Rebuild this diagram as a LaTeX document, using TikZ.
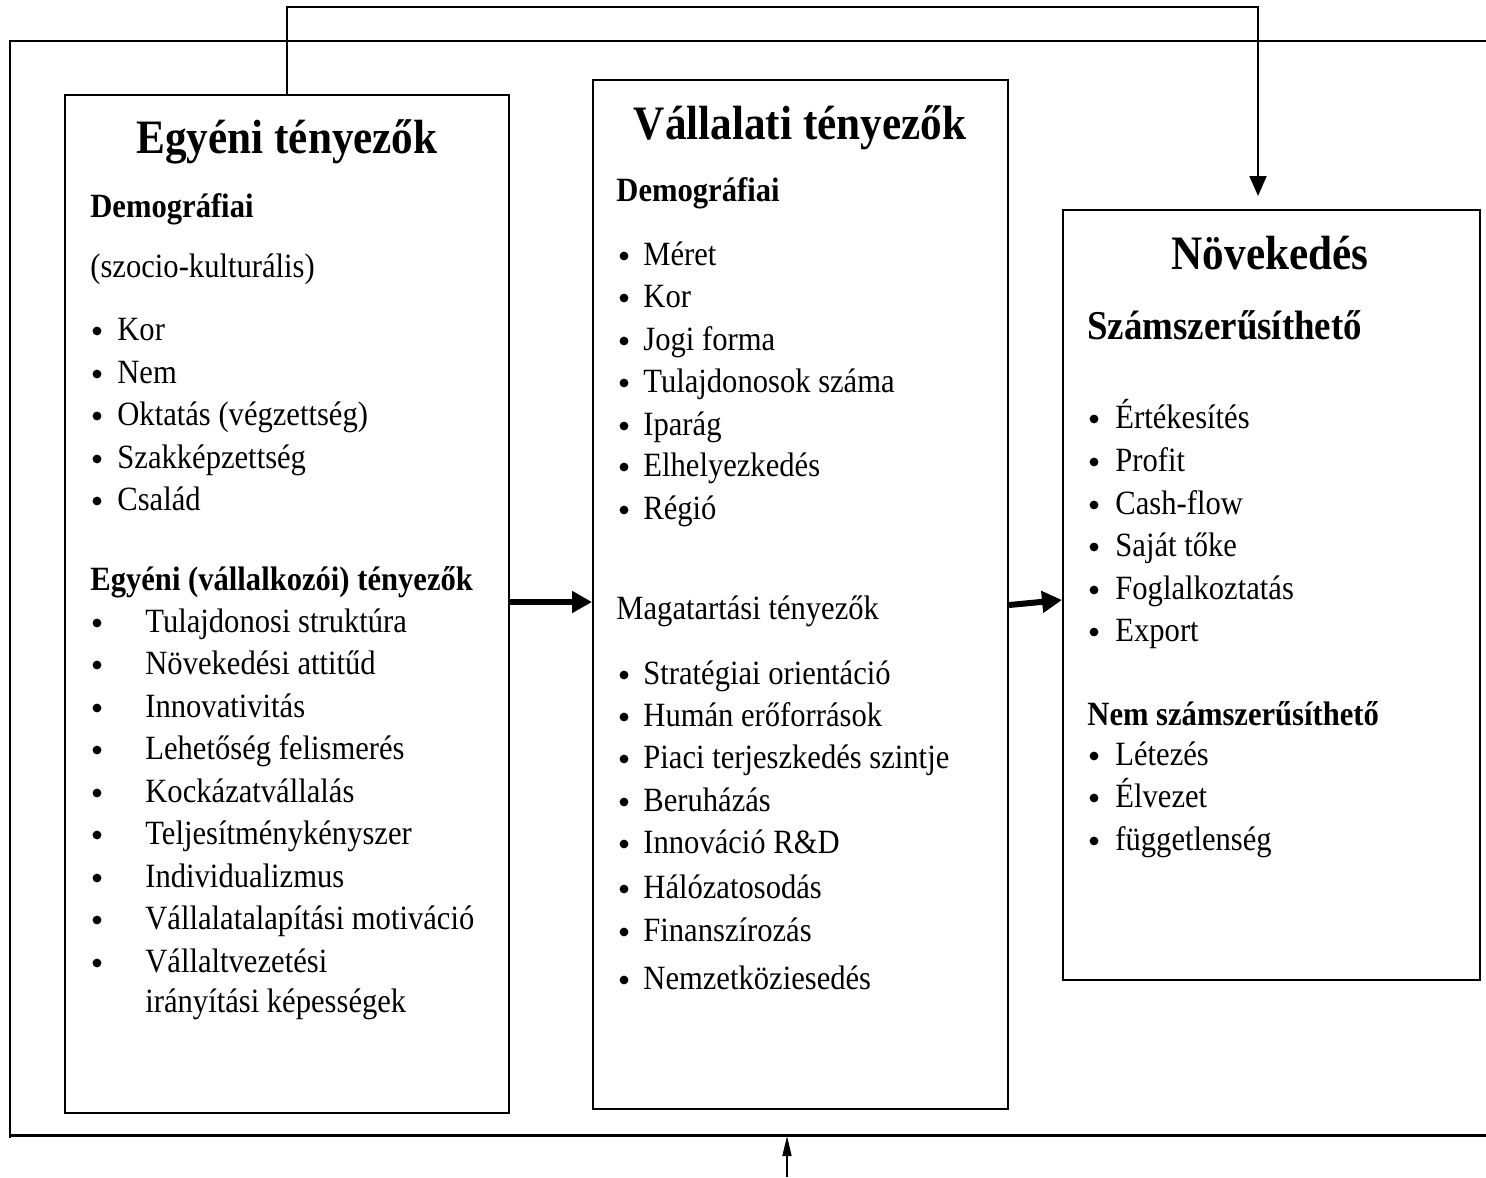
\documentclass[tikz,border=0pt]{standalone}
\usepackage{fontspec}
\setmainfont{Liberation Serif}[FakeStretch=0.9]
\usetikzlibrary{arrows.meta}

\tikzset{
  box/.style={draw, line width=1pt, inner sep=0pt},
  txt/.style={anchor=base west, inner sep=0pt, font=\fontsize{17}{20}\selectfont},
  head/.style={txt, font=\fontsize{17}{20}\selectfont\bfseries},
  ttl/.style={anchor=base, inner sep=0pt, font=\fontsize{24}{28}\selectfont\bfseries},
  dot/.style={circle, fill, inner sep=0pt, minimum size=4.4pt},
  fat/.style={line width=3pt, -{Triangle[length=10pt,width=10.5pt]}},
  feedback/.style={line width=1pt, -{Triangle[length=10pt,width=8.5pt]}, shorten >=6.5pt},
  inarrow/.style={line width=0.8pt, -{Triangle[length=10pt,width=4.5pt]}}
}

\begin{document}
\begin{tikzpicture}[x=0.5pt,y=-0.5pt]
    \useasboundingbox (0,0) rectangle (1486,1177);
    % outer frame
    \draw[line width=1pt] (1486,41) -- (10,41) -- (10,1138);
    \draw[line width=1.5pt] (10,1135) -- (1486,1135);

    % boxes
    \node[box, minimum width=222pt, minimum height=509pt] (egyeni) at (287,604) {};
    \node[box, minimum width=207.5pt, minimum height=514.5pt] (vallalati) at (800.5,594.5) {};
    \node[box, minimum width=208.5pt, minimum height=385pt] (novekedes) at (1271.5,595) {};

    % Egyeni tenyezok
    \node[ttl] (t1) at (287,153) {Egyéni tényezők};
    \node[head] (e1) at (90,217) {Demográfiai};
    \node[txt] (e2) at (90,277) {(szocio-kulturális)};
    \foreach \y/\t [count=\i] in {340/Kor, 383/Nem, 425/Oktatás (végzettség), 468/Szakképzettség, 510/Család}{
        \node[dot] (ea\i) at (97,\y-9) {};
        \node[txt] (eat\i) at (117,\y) {\t};
    }
    \node[head] (e3) at (90,590) {Egyéni (vállalkozói) tényezők};
    \foreach \y/\t [count=\i] in {632/Tulajdonosi struktúra, 674/Növekedési attitűd, 717/Innovativitás,
        759/Lehetőség felismerés, 802/Kockázatvállalás, 844/Teljesítménykényszer, 887/Individualizmus,
        929/Vállalatalapítási motiváció, 972/Vállaltvezetési/}{
        \node[dot] (eb\i) at (97,\y-9) {};
        \node[txt] (ebt\i) at (145,\y) {\t};
    }
    \node[txt] (ebt10) at (145,1012) {irányítási képességek};

    % Vallalati tenyezok
    \node[ttl] (t2) at (800,140) {Vállalati tényezők};
    \node[head] (v1) at (616,201) {Demográfiai};
    \foreach \y/\t [count=\i] in {265/Méret, 307/Kor, 350/Jogi forma, 392/Tulajdonosok száma,
        435/Iparág, 476/Elhelyezkedés, 519/Régió}{
        \node[dot] (va\i) at (624,\y-9) {};
        \node[txt] (vat\i) at (643,\y) {\t};
    }
    \node[txt] (v2) at (616,619) {Magatartási tényezők};
    \foreach \y/\t [count=\i] in {684/Stratégiai orientáció, 726/Humán erőforrások, 768/Piaci terjeszkedés szintje,
        811/Beruházás, 853/Innováció R\&D, 898/Hálózatosodás, 941/Finanszírozás, 989/Nemzetköziesedés}{
        \node[dot] (vb\i) at (624,\y-9) {};
        \node[txt] (vbt\i) at (643,\y) {\t};
    }

    % Novekedes
    \node[ttl] (t3) at (1270,269) {Növekedés};
    \node[txt, font=\fontsize{20.5}{24}\selectfont\bfseries] (n1) at (1087,339) {Számszerűsíthető};
    \foreach \y/\t [count=\i] in {428/Értékesítés, 471/Profit, 514/Cash-flow, 556/Saját tőke,
        599/Foglalkoztatás, 641/Export}{
        \node[dot] (na\i) at (1094,\y-9) {};
        \node[txt] (nat\i) at (1115,\y) {\t};
    }
    \node[head] (n2) at (1087,725) {Nem számszerűsíthető};
    \foreach \y/\t [count=\i] in {765/Létezés, 807/Élvezet, 850/függetlenség}{
        \node[dot] (nb\i) at (1094,\y-9) {};
        \node[txt] (nbt\i) at (1115,\y) {\t};
    }

    % connectors
    \draw[fat] (egyeni.east |- 0,602) -- (vallalati.west |- 0,602);
    \draw[fat] (vallalati.east |- 0,605) -- (novekedes.west |- 0,600);
    \coordinate (fb) at (1258,7);
    \draw[feedback] (egyeni.north) |- (fb) -- (fb |- novekedes.north);
    \coordinate (inp) at (787,1177);
    \coordinate (inpt) at (787,1136);
    \draw[inarrow] (inp) -- (inpt);
\end{tikzpicture}
\end{document}
